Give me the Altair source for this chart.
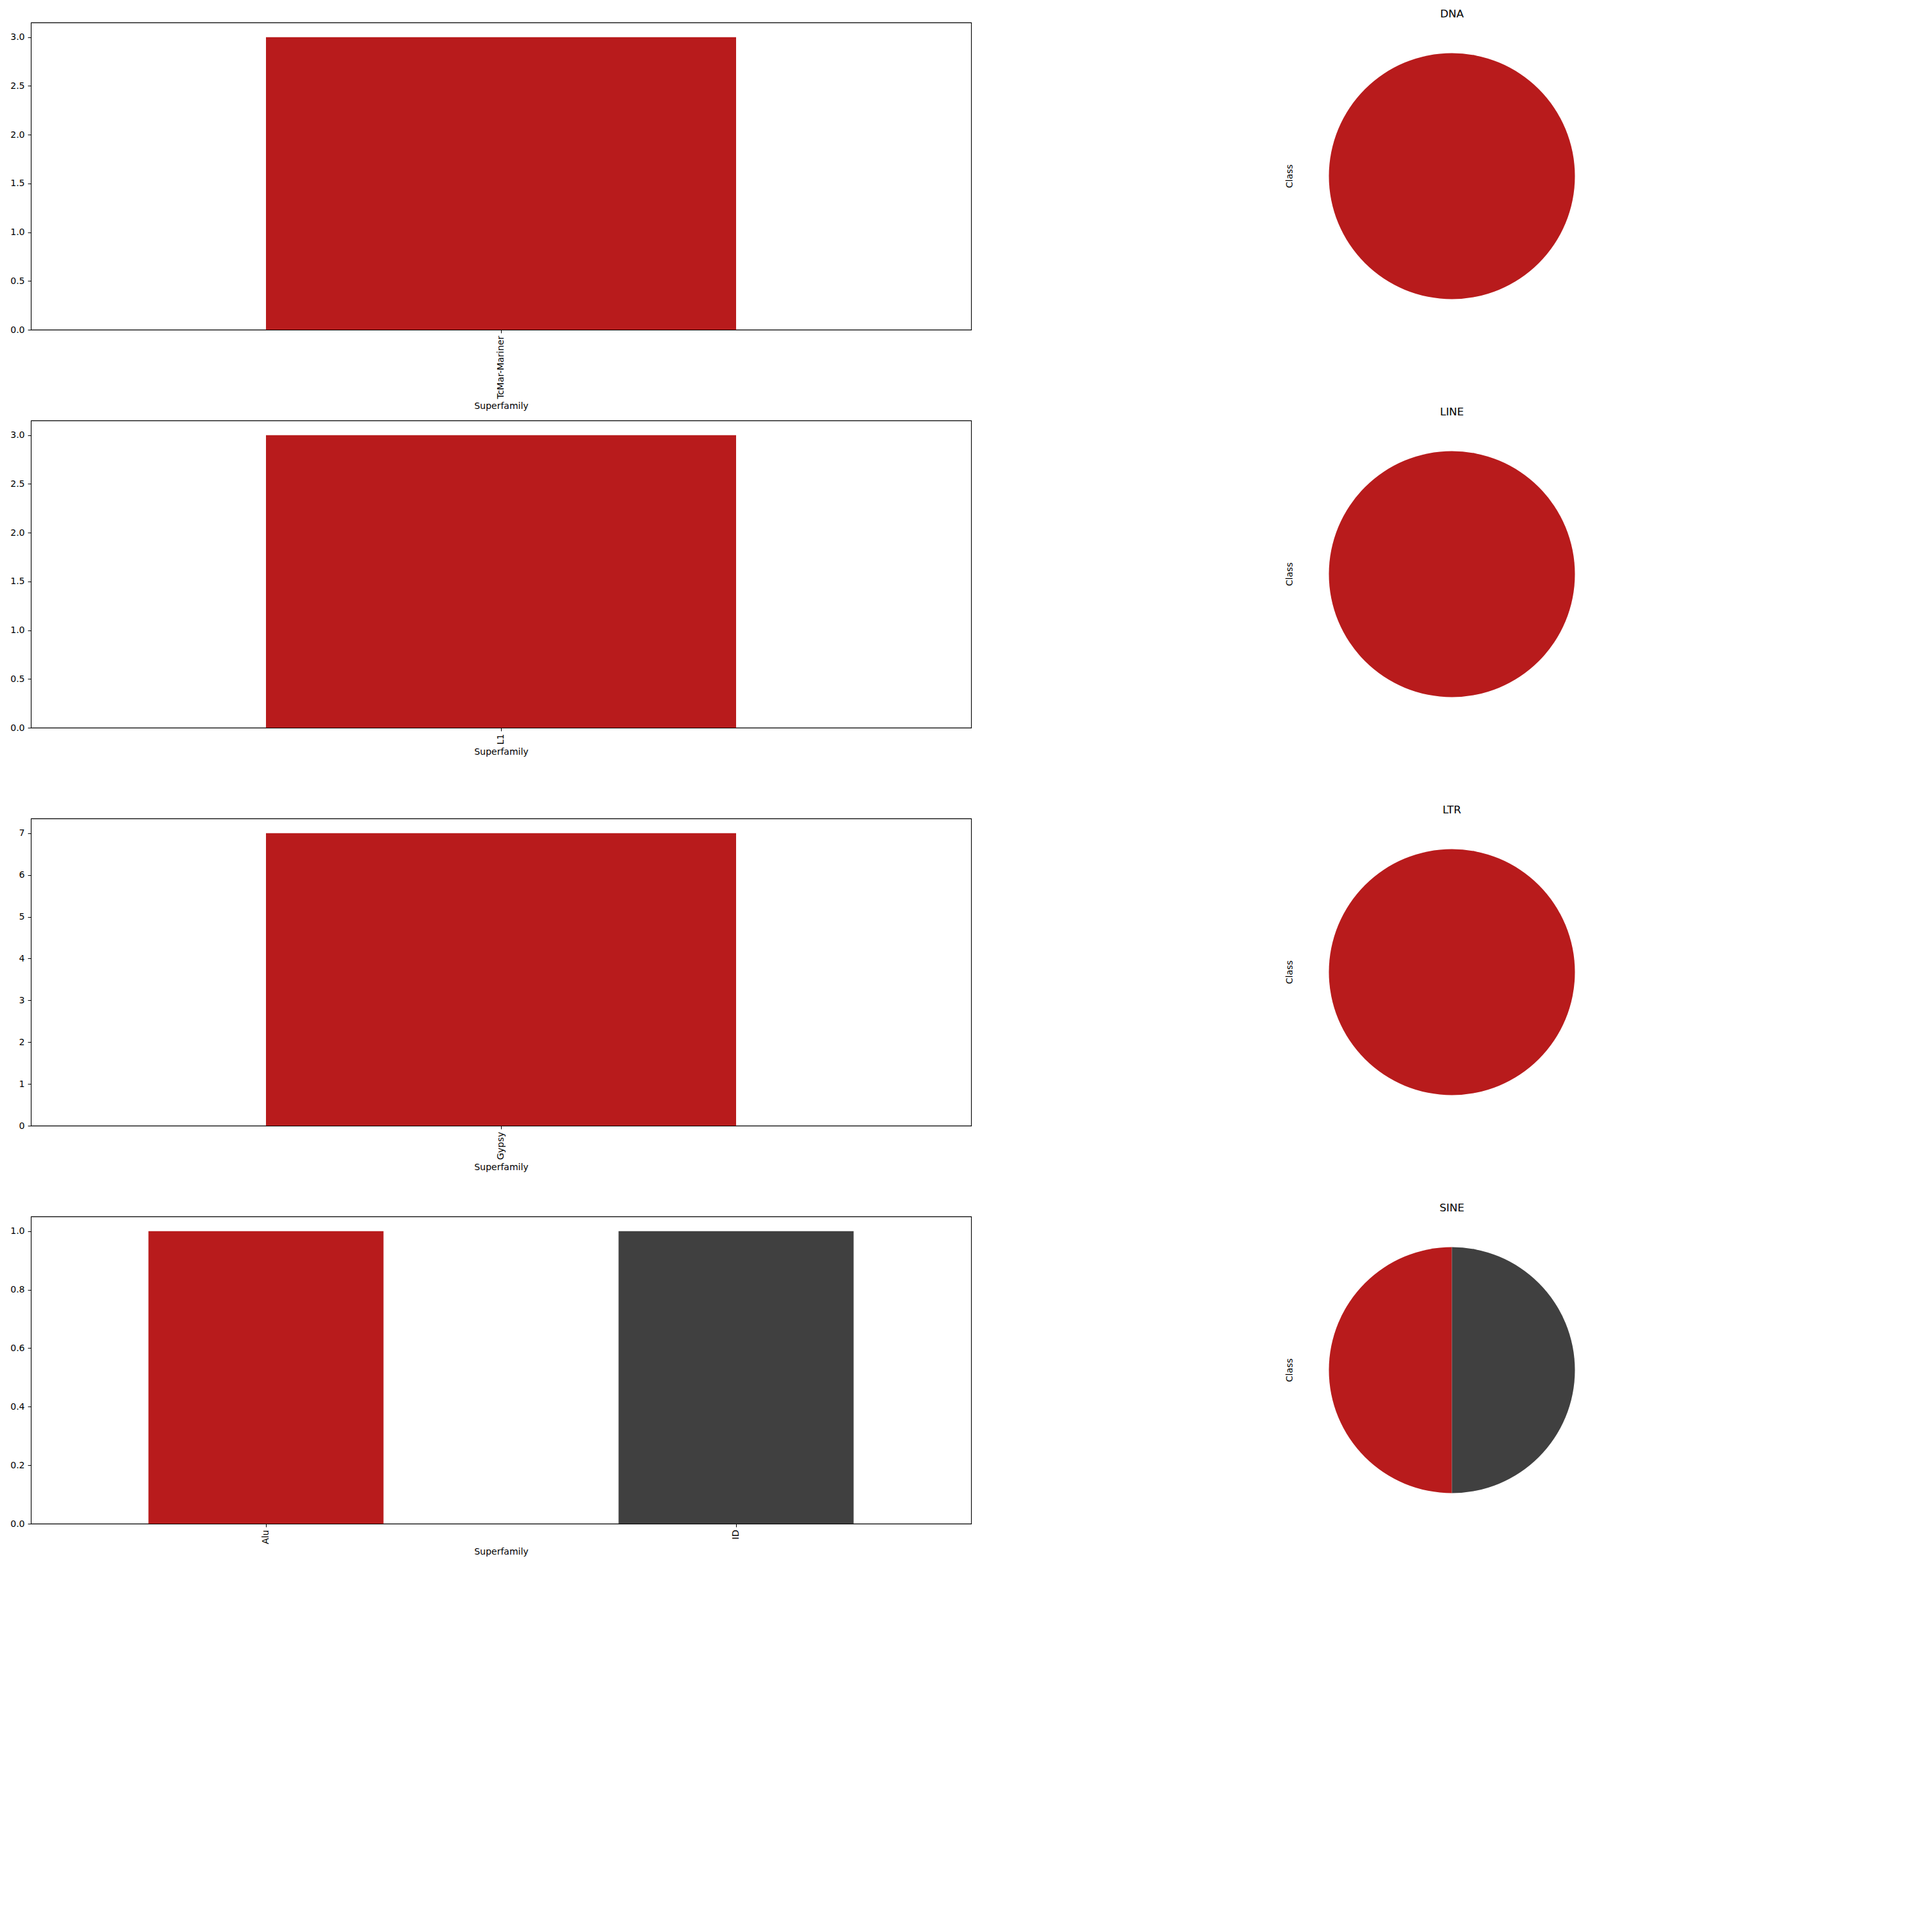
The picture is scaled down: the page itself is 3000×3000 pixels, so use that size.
import altair as alt
import pandas as pd

# ---- data ----
classes = ["DNA", "LINE", "LTR", "SINE"]
superfamilies = [["TcMar-Mariner"], ["L1"], ["Gypsy"], ["Alu", "ID"]]
counts = [[3], [3], [7], [1, 1]]

# axis extents / ticks (matplotlib-like 5% headroom)
y_max = [3.15, 3.15, 7.35, 1.05]
y_ticks = [[0, 0.5, 1.0, 1.5, 2.0, 2.5, 3.0],
           [0, 0.5, 1.0, 1.5, 2.0, 2.5, 3.0],
           [0, 1, 2, 3, 4, 5, 6, 7],
           [0, 0.2, 0.4, 0.6, 0.8, 1.0]]
y_fmt = [".1f", ".1f", "d", ".1f"]

all_sf = ["TcMar-Mariner", "L1", "Gypsy", "Alu", "ID"]
sf_colors = ["#b81b1c", "#b81b1c", "#b81b1c", "#b81b1c", "#404040"]

FONT = "DejaVu Sans"
BAR_W, BAR_H = 1460, 477
PIE_W = 477
RADIUS = 191

color_scale = alt.Scale(domain=all_sf, range=sf_colors)

charts = []
for i, cls in enumerate(classes):
    df = pd.DataFrame({
        "Superfamily": superfamilies[i],
        "Count": counts[i],
        "order": list(range(len(superfamilies[i])))[::-1],
    })

    bar = alt.Chart(df).mark_bar().encode(
        x=alt.X("Superfamily:N", sort=superfamilies[i],
                scale=alt.Scale(paddingInner=0.5, paddingOuter=0.25),
                axis=alt.Axis(title="Superfamily", labelAngle=-90,
                              ticks=True, tickSize=5, tickColor="black",
                              labelPadding=4, titlePadding=5,
                              domain=False)),
        y=alt.Y("Count:Q",
                scale=alt.Scale(domain=[0, y_max[i]], nice=False, zero=True),
                axis=alt.Axis(title=None, values=y_ticks[i], format=y_fmt[i],
                              tickSize=5, tickColor="black", labelPadding=5,
                              grid=False, domain=False)),
        color=alt.Color("Superfamily:N", scale=color_scale, legend=None),
    ).properties(width=BAR_W, height=BAR_H,
                 view=alt.ViewBackground(stroke="black", strokeWidth=1.1))

    arc = alt.Chart(df).mark_arc(outerRadius=RADIUS).encode(
        theta=alt.Theta("Count:Q", stack=True),
        order=alt.Order("order:Q", sort="ascending"),
        color=alt.Color("Superfamily:N", scale=color_scale, legend=None),
    )
    lbl = alt.Chart(pd.DataFrame({"label": ["Class"]})).mark_text(
        angle=270, align="center", baseline="middle", fontSize=14,
        font=FONT, color="black"
    ).encode(x=alt.value(-13), y=alt.value(PIE_W / 2), text="label:N")

    pie = alt.layer(arc, lbl).properties(
        width=PIE_W, height=BAR_H,
        view=alt.ViewBackground(stroke=None),
        title=alt.TitleParams(cls, fontSize=16.7, font=FONT, fontWeight="normal",
                              anchor="middle", offset=4, color="black"),
    )
    charts += [bar, pie]

chart = alt.concat(*charts, columns=2, spacing={"row": 141, "column": 508},
                   bounds="flush", align="each").properties(
    padding={"left": 15, "top": 14, "right": 5, "bottom": 5},
    background="white",
).configure_view(stroke=None).configure_axis(
    labelFont=FONT, labelFontSize=14, labelColor="black",
    titleFont=FONT, titleFontSize=14, titleColor="black",
    titleFontWeight="normal",
)

chart.save("out.html", embed_options={"renderer": "svg", "actions": False})
